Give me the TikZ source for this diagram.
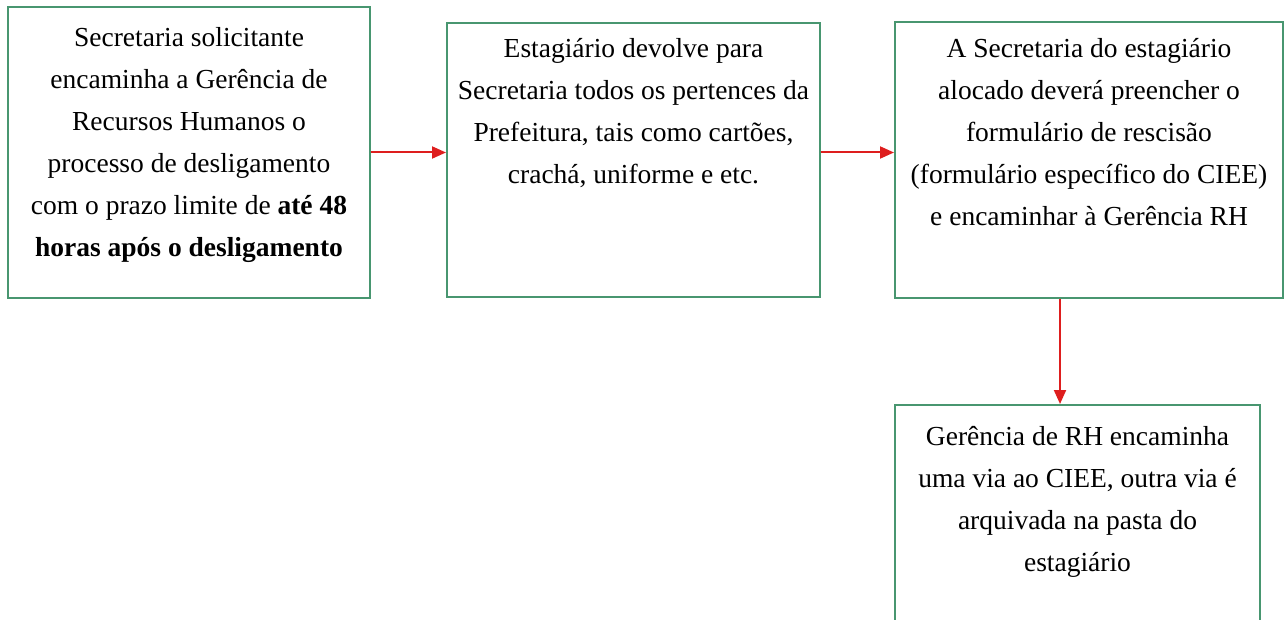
\documentclass[tikz,border=0pt]{standalone}
\usepackage{fontspec}
\setmainfont{Liberation Serif}
\usetikzlibrary{arrows.meta}
\definecolor{boxgreen}{RGB}{72,150,112}
\definecolor{arrred}{RGB}{222,30,30}
\tikzset{
  box/.style={draw=boxgreen, line width=2pt, fill=white, inner sep=0pt},
  txt/.style={anchor=north, align=center, inner sep=0pt, font=\fontsize{27.5}{42}\selectfont},
  flow/.style={draw=arrred, line width=2pt, -{Triangle[length=14pt,width=12pt]}}
}
\begin{document}
\begin{tikzpicture}[x=1pt,y=-1pt]
\useasboundingbox (0,0) rectangle (1284,620);
\clip (0,0) rectangle (1284,620);
\node[box, minimum width=362pt, minimum height=291pt] (b1) at (189,152.5) {};
\node[box, minimum width=373pt, minimum height=274pt] (b2) at (633.5,160) {};
\node[box, minimum width=388pt, minimum height=276pt] (b3) at (1089,160) {};
\node[box, minimum width=365pt, minimum height=255pt] (b4) at (1077.5,532.5) {};
\node[txt] (t1) at (189,27) {Secretaria solicitante\\encaminha a Gerência de\\Recursos Humanos o\\processo de desligamento\\com o prazo limite de \textbf{até 48}\\\textbf{horas após o desligamento}};
\node[txt] (t2) at (633.5,38) {Estagiário devolve para\\Secretaria todos os pertences da\\Prefeitura, tais como cartões,\\crachá, uniforme e etc.};
\node[txt] (t3) at (1089,38) {A Secretaria do estagiário\\alocado deverá preencher o\\formulário de rescisão\\(formulário específico do CIEE)\\e encaminhar à Gerência RH};
\node[txt] (t4) at (1077.5,426) {Gerência de RH encaminha\\uma via ao CIEE, outra via é\\arquivada na pasta do\\estagiário};
\coordinate (ax) at (1060,0);
\draw[flow] (b1.east) -- (b2.west |- b1.east);
\draw[flow] (b2.east |- b1.east) -- (b3.west |- b1.east);
\draw[flow] (b3.south -| ax) -- (b4.north -| ax);
\end{tikzpicture}
\end{document}
